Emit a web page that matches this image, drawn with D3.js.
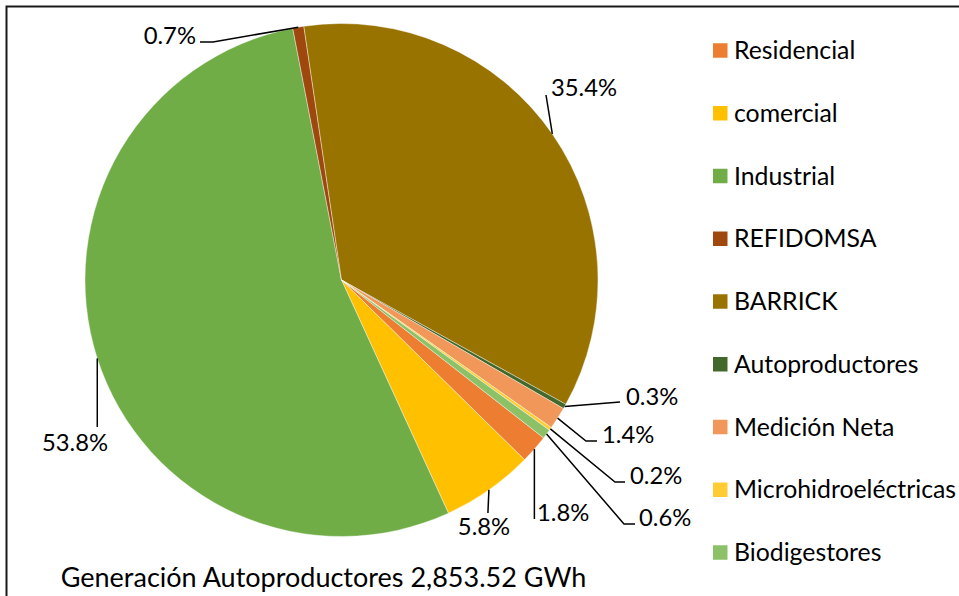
<!DOCTYPE html>
<html>
<head>
<meta charset="utf-8">
<script src="https://cdn.jsdelivr.net/npm/d3@7"></script>
<style>
  html, body { margin: 0; padding: 0; background: #fff; }
  svg { display: block; }
  text { font-family: Lato, "Open Sans", sans-serif; fill: #000; }
</style>
</head>
<body>
<svg id="chart" width="959" height="596"></svg>
<script>
// ---- data ----
const categories = ["Residencial", "comercial", "Industrial", "REFIDOMSA", "BARRICK",
                    "Autoproductores", "Medición Neta", "Microhidroeléctricas", "Biodigestores"];
const values = [1.8, 5.8, 53.8, 0.7, 35.4, 0.3, 1.4, 0.2, 0.6];
const valueLabels = ["1.8%", "5.8%", "53.8%", "0.7%", "35.4%", "0.3%", "1.4%", "0.2%", "0.6%"];
const colors = ["#ED7D31", "#FFC000", "#70AD47", "#9E480E", "#997300",
                "#43682B", "#F1975A", "#FFCD33", "#8CC168"];
const title = "Generación Autoproductores 2,853.52 GWh";

// ---- layout ----
const W = 959, H = 596;
const cx = 341.5, cy = 280, R = 256.5;
const startDeg = 128;

// label layout: text anchor/position and leader-line bend points
const labelLayout = [
  { anchor: "start",  tx: 537, ty: 521, pts: e => [[e[0], 519]] },
  { anchor: "middle", tx: 484, ty: 535, pts: e => [[e[0] - 1, 513]] },
  { anchor: "middle", tx: 75,  ty: 451, pts: e => [[e[0], 427]] },
  { anchor: "end",    tx: 196, ty: 44,  pts: e => [[213, 42], [200, 42]] },
  { anchor: "start",  tx: 551, ty: 96,  pts: e => [[546, 95]] },
  { anchor: "start",  tx: 626, ty: 405, pts: e => [[620, 402]] },
  { anchor: "start",  tx: 602, ty: 443, pts: e => [[586, 441], [597, 441]] },
  { anchor: "start",  tx: 630, ty: 484, pts: e => [[615, 482], [625, 482]] },
  { anchor: "start",  tx: 639, ty: 526, pts: e => [[624, 524], [635, 524]] }
];

const svg = d3.select("#chart");

// frame
svg.append("rect")
  .attr("x", 6.5).attr("y", 6.5)
  .attr("width", 1000).attr("height", 1000)
  .attr("fill", "none").attr("stroke", "#1a1a1a").attr("stroke-width", 2);

const pie = d3.pie().sort(null).value(d => d)
  .startAngle(startDeg * Math.PI / 180)
  .endAngle(startDeg * Math.PI / 180 + 2 * Math.PI);
const arcs = pie(values);
const arc = d3.arc().innerRadius(0).outerRadius(R);
const edgeArc = d3.arc().innerRadius(R).outerRadius(R);

const g = svg.append("g").attr("transform", `translate(${cx},${cy})`);
g.selectAll("path.slice").data(arcs).join("path")
  .attr("class", "slice")
  .attr("d", arc)
  .attr("fill", (d, i) => colors[i])
  .attr("stroke", "#fff").attr("stroke-width", 0.4);

// leader lines & labels
const line = d3.line();
arcs.forEach((d, i) => {
  const c = edgeArc.centroid(d);
  const e = [c[0] + cx, c[1] + cy];
  const L = labelLayout[i];
  svg.append("path")
    .attr("d", line([e, ...L.pts(e)]))
    .attr("fill", "none").attr("stroke", "#000").attr("stroke-width", 1.5);
  svg.append("text")
    .attr("x", L.tx).attr("y", L.ty)
    .attr("text-anchor", L.anchor)
    .attr("font-size", 23.8)
    .text(valueLabels[i]);
});

// legend
const legX = 713, legY0 = 50.5, legStep = 62.75, sq = 14.5;
const leg = svg.append("g");
categories.forEach((c, i) => {
  const y = legY0 + i * legStep;
  leg.append("rect")
    .attr("x", legX).attr("y", y - sq / 2)
    .attr("width", sq).attr("height", sq)
    .attr("fill", colors[i]);
  leg.append("text")
    .attr("x", 734).attr("y", y + 8.5)
    .attr("font-size", 24.8)
    .text(c);
});

// title
svg.append("text")
  .attr("x", 323.5).attr("y", 587)
  .attr("text-anchor", "middle")
  .attr("font-size", 27)
  .text(title);
</script>
</body>
</html>
